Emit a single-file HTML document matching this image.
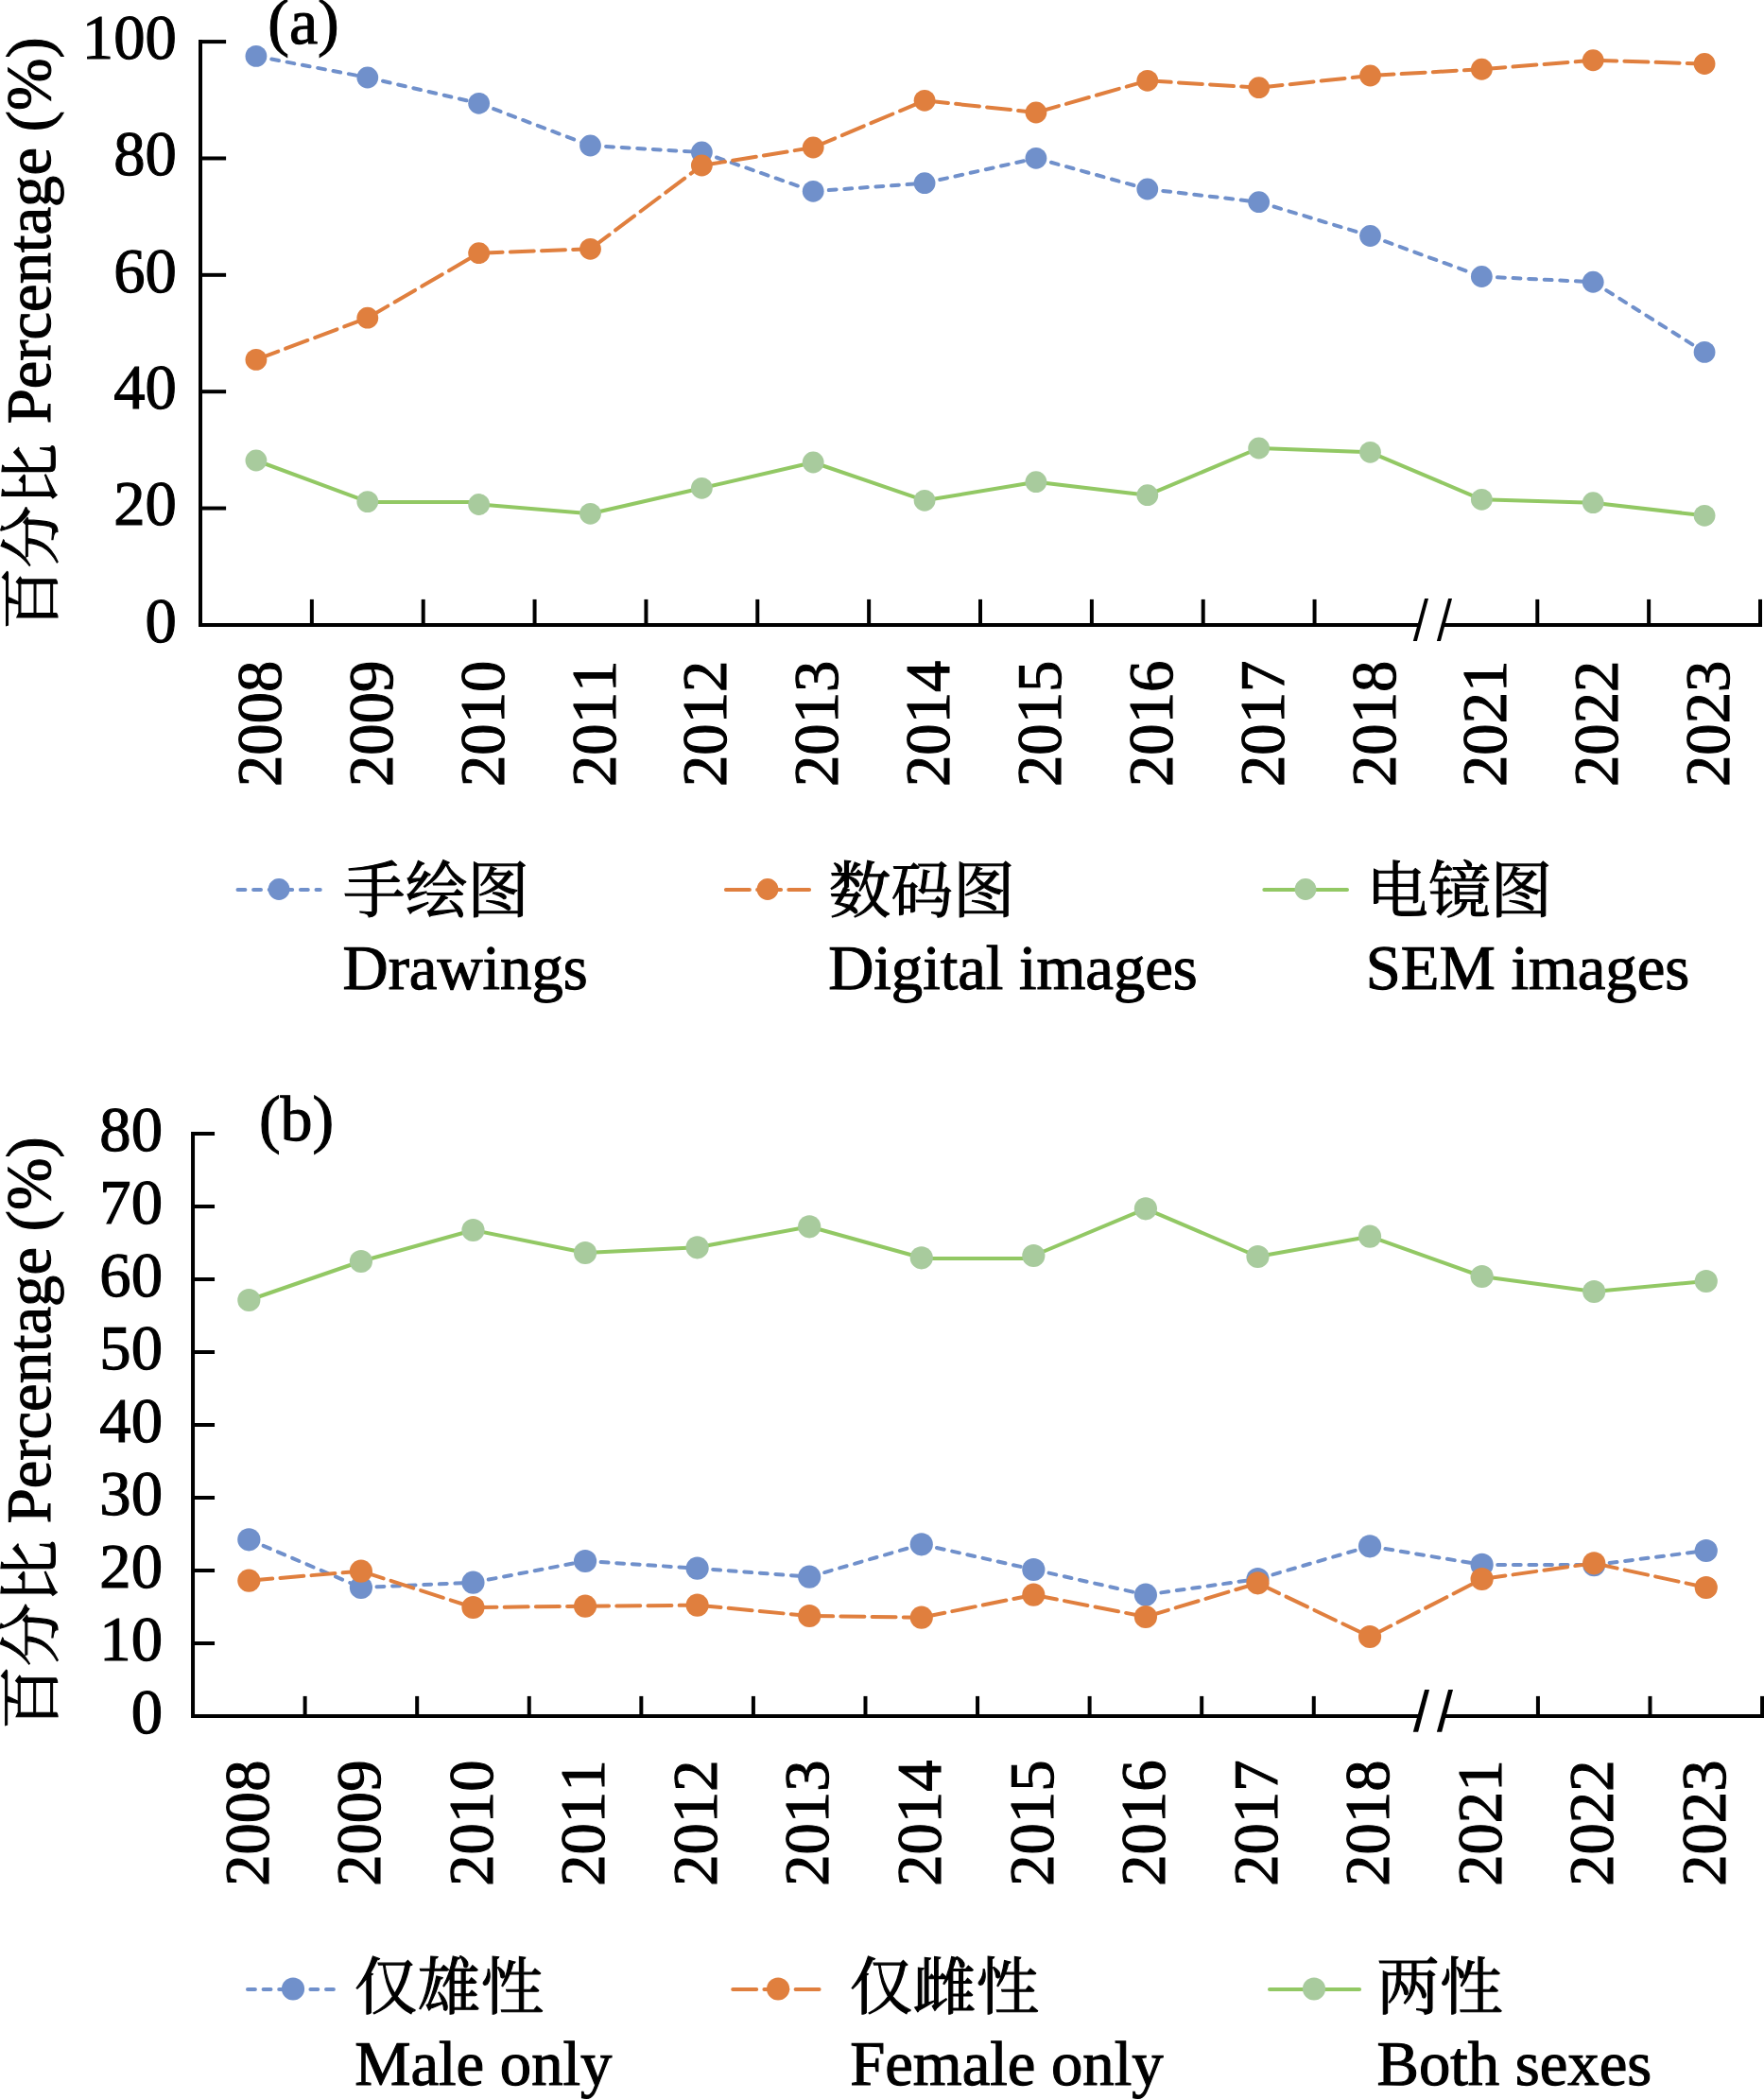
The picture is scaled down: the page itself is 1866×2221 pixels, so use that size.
<!DOCTYPE html>
<html lang="zh"><head><meta charset="utf-8"><title>Figure</title>
<style>html,body{margin:0;padding:0;background:#fff}svg{display:block}text{font-family:"Liberation Serif", "Noto Serif CJK SC", serif;white-space:pre;font-kerning:none;font-variant-ligatures:none;text-rendering:geometricPrecision}</style>
</head><body>
<svg width="1866" height="2221" viewBox="0 0 1866 2221">
<rect width="1866" height="2221" fill="#fff"/>
<g id="chart-a">
<g class="axes" stroke="#000" stroke-width="4" fill="none" stroke-linecap="butt">
<line x1="212" y1="42.1" x2="212" y2="662.9"/>
<line x1="212" y1="660.9" x2="1501.5" y2="660.9"/>
<line x1="1527" y1="660.9" x2="1864" y2="660.9"/>
<line x1="212" y1="44.1" x2="239.1" y2="44.1"/>
<line x1="212" y1="167.46" x2="239.1" y2="167.46"/>
<line x1="212" y1="290.82" x2="239.1" y2="290.82"/>
<line x1="212" y1="414.18" x2="239.1" y2="414.18"/>
<line x1="212" y1="537.54" x2="239.1" y2="537.54"/>
<line x1="329.86" y1="660.9" x2="329.86" y2="633.9"/>
<line x1="447.71" y1="660.9" x2="447.71" y2="633.9"/>
<line x1="565.57" y1="660.9" x2="565.57" y2="633.9"/>
<line x1="683.43" y1="660.9" x2="683.43" y2="633.9"/>
<line x1="801.29" y1="660.9" x2="801.29" y2="633.9"/>
<line x1="919.14" y1="660.9" x2="919.14" y2="633.9"/>
<line x1="1037" y1="660.9" x2="1037" y2="633.9"/>
<line x1="1154.86" y1="660.9" x2="1154.86" y2="633.9"/>
<line x1="1272.71" y1="660.9" x2="1272.71" y2="633.9"/>
<line x1="1390.57" y1="660.9" x2="1390.57" y2="633.9"/>
<line x1="1626.29" y1="660.9" x2="1626.29" y2="633.9"/>
<line x1="1744.14" y1="660.9" x2="1744.14" y2="633.9"/>
<line x1="1862" y1="660.9" x2="1862" y2="633.9"/>
<polygon points="1507.07,632.9 1511.02,632.9 1498.91,677.96 1494.83,677.96" fill="#000" stroke="none"/>
<polygon points="1532.1,632.9 1536.05,632.9 1523.95,677.96 1519.86,677.96" fill="#000" stroke="none"/>
</g>
<g class="labels" font-size="66.67" fill="#000" stroke="#000" stroke-width="1.1">
<text x="186.8" y="62" text-anchor="end">100</text>
<text x="186.8" y="185.36" text-anchor="end">80</text>
<text x="186.8" y="308.72" text-anchor="end">60</text>
<text x="186.8" y="432.08" text-anchor="end">40</text>
<text x="186.8" y="555.44" text-anchor="end">20</text>
<text x="186.8" y="678.8" text-anchor="end">0</text>
<text transform="translate(296.93 832) rotate(-90)">2008</text>
<text transform="translate(414.79 832) rotate(-90)">2009</text>
<text transform="translate(532.64 832) rotate(-90)">2010</text>
<text transform="translate(650.5 832) rotate(-90)">2011</text>
<text transform="translate(768.36 832) rotate(-90)">2012</text>
<text transform="translate(886.21 832) rotate(-90)">2013</text>
<text transform="translate(1004.07 832) rotate(-90)">2014</text>
<text transform="translate(1121.93 832) rotate(-90)">2015</text>
<text transform="translate(1239.79 832) rotate(-90)">2016</text>
<text transform="translate(1357.64 832) rotate(-90)">2017</text>
<text transform="translate(1475.5 832) rotate(-90)">2018</text>
<text transform="translate(1593.36 832) rotate(-90)">2021</text>
<text transform="translate(1711.21 832) rotate(-90)">2022</text>
<text transform="translate(1829.07 832) rotate(-90)">2023</text>
<text x="283.3" y="46" font-size="68">(a)</text>
<text transform="translate(53.3 665) rotate(-90)"><tspan dy="2.2" dx="-1" font-size="65.6">百分比</tspan><tspan dy="-2.2" dx="4.21"> Percentage (%)</tspan></text>
</g>
<g class="s-blue">
<line x1="270.93" y1="59.4" x2="388.79" y2="82" stroke="#7090CB" stroke-width="4" stroke-linecap="round" stroke-dasharray="7.9 8.7"/>
<line x1="388.79" y1="82" x2="506.64" y2="109.3" stroke="#7090CB" stroke-width="4" stroke-linecap="round" stroke-dasharray="7.9 8.7"/>
<line x1="506.64" y1="109.3" x2="624.5" y2="154" stroke="#7090CB" stroke-width="4" stroke-linecap="round" stroke-dasharray="7.9 8.7"/>
<line x1="624.5" y1="154" x2="742.36" y2="161" stroke="#7090CB" stroke-width="4" stroke-linecap="round" stroke-dasharray="7.9 8.7"/>
<line x1="742.36" y1="161" x2="860.21" y2="202.3" stroke="#7090CB" stroke-width="4" stroke-linecap="round" stroke-dasharray="7.9 8.7"/>
<line x1="860.21" y1="202.3" x2="978.07" y2="193.7" stroke="#7090CB" stroke-width="4" stroke-linecap="round" stroke-dasharray="7.9 8.7"/>
<line x1="978.07" y1="193.7" x2="1095.93" y2="167.3" stroke="#7090CB" stroke-width="4" stroke-linecap="round" stroke-dasharray="7.9 8.7"/>
<line x1="1095.93" y1="167.3" x2="1213.79" y2="200" stroke="#7090CB" stroke-width="4" stroke-linecap="round" stroke-dasharray="7.9 8.7"/>
<line x1="1213.79" y1="200" x2="1331.64" y2="213.7" stroke="#7090CB" stroke-width="4" stroke-linecap="round" stroke-dasharray="7.9 8.7"/>
<line x1="1331.64" y1="213.7" x2="1449.5" y2="249.5" stroke="#7090CB" stroke-width="4" stroke-linecap="round" stroke-dasharray="7.9 8.7"/>
<line x1="1449.5" y1="249.5" x2="1567.36" y2="292.5" stroke="#7090CB" stroke-width="4" stroke-linecap="round" stroke-dasharray="7.9 8.7"/>
<line x1="1567.36" y1="292.5" x2="1685.21" y2="298.25" stroke="#7090CB" stroke-width="4" stroke-linecap="round" stroke-dasharray="7.9 8.7"/>
<line x1="1685.21" y1="298.25" x2="1803.07" y2="372.4" stroke="#7090CB" stroke-width="4" stroke-linecap="round" stroke-dasharray="7.9 8.7"/>
<circle cx="270.93" cy="59.4" r="11.4" fill="#7090CB"/>
<circle cx="388.79" cy="82" r="11.4" fill="#7090CB"/>
<circle cx="506.64" cy="109.3" r="11.4" fill="#7090CB"/>
<circle cx="624.5" cy="154" r="11.4" fill="#7090CB"/>
<circle cx="742.36" cy="161" r="11.4" fill="#7090CB"/>
<circle cx="860.21" cy="202.3" r="11.4" fill="#7090CB"/>
<circle cx="978.07" cy="193.7" r="11.4" fill="#7090CB"/>
<circle cx="1095.93" cy="167.3" r="11.4" fill="#7090CB"/>
<circle cx="1213.79" cy="200" r="11.4" fill="#7090CB"/>
<circle cx="1331.64" cy="213.7" r="11.4" fill="#7090CB"/>
<circle cx="1449.5" cy="249.5" r="11.4" fill="#7090CB"/>
<circle cx="1567.36" cy="292.5" r="11.4" fill="#7090CB"/>
<circle cx="1685.21" cy="298.25" r="11.4" fill="#7090CB"/>
<circle cx="1803.07" cy="372.4" r="11.4" fill="#7090CB"/>
</g>
<g class="s-orange">
<line x1="270.93" y1="380.4" x2="388.79" y2="336.2" stroke="#E07F3E" stroke-width="4" stroke-linecap="round" stroke-dasharray="25 8.2"/>
<line x1="388.79" y1="336.2" x2="506.64" y2="267.7" stroke="#E07F3E" stroke-width="4" stroke-linecap="round" stroke-dasharray="25 8.2"/>
<line x1="506.64" y1="267.7" x2="624.5" y2="263.3" stroke="#E07F3E" stroke-width="4" stroke-linecap="round" stroke-dasharray="25 8.2"/>
<line x1="624.5" y1="263.3" x2="742.36" y2="175" stroke="#E07F3E" stroke-width="4" stroke-linecap="round" stroke-dasharray="25 8.2"/>
<line x1="742.36" y1="175" x2="860.21" y2="156" stroke="#E07F3E" stroke-width="4" stroke-linecap="round" stroke-dasharray="25 8.2"/>
<line x1="860.21" y1="156" x2="978.07" y2="106.3" stroke="#E07F3E" stroke-width="4" stroke-linecap="round" stroke-dasharray="25 8.2"/>
<line x1="978.07" y1="106.3" x2="1095.93" y2="119" stroke="#E07F3E" stroke-width="4" stroke-linecap="round" stroke-dasharray="25 8.2"/>
<line x1="1095.93" y1="119" x2="1213.79" y2="85.3" stroke="#E07F3E" stroke-width="4" stroke-linecap="round" stroke-dasharray="25 8.2"/>
<line x1="1213.79" y1="85.3" x2="1331.64" y2="92.7" stroke="#E07F3E" stroke-width="4" stroke-linecap="round" stroke-dasharray="25 8.2"/>
<line x1="1331.64" y1="92.7" x2="1449.5" y2="80" stroke="#E07F3E" stroke-width="4" stroke-linecap="round" stroke-dasharray="25 8.2"/>
<line x1="1449.5" y1="80" x2="1567.36" y2="73.25" stroke="#E07F3E" stroke-width="4" stroke-linecap="round" stroke-dasharray="25 8.2"/>
<line x1="1567.36" y1="73.25" x2="1685.21" y2="63.75" stroke="#E07F3E" stroke-width="4" stroke-linecap="round" stroke-dasharray="25 8.2"/>
<line x1="1685.21" y1="63.75" x2="1803.07" y2="67.5" stroke="#E07F3E" stroke-width="4" stroke-linecap="round" stroke-dasharray="25 8.2"/>
<circle cx="270.93" cy="380.4" r="11.4" fill="#E07F3E"/>
<circle cx="388.79" cy="336.2" r="11.4" fill="#E07F3E"/>
<circle cx="506.64" cy="267.7" r="11.4" fill="#E07F3E"/>
<circle cx="624.5" cy="263.3" r="11.4" fill="#E07F3E"/>
<circle cx="742.36" cy="175" r="11.4" fill="#E07F3E"/>
<circle cx="860.21" cy="156" r="11.4" fill="#E07F3E"/>
<circle cx="978.07" cy="106.3" r="11.4" fill="#E07F3E"/>
<circle cx="1095.93" cy="119" r="11.4" fill="#E07F3E"/>
<circle cx="1213.79" cy="85.3" r="11.4" fill="#E07F3E"/>
<circle cx="1331.64" cy="92.7" r="11.4" fill="#E07F3E"/>
<circle cx="1449.5" cy="80" r="11.4" fill="#E07F3E"/>
<circle cx="1567.36" cy="73.25" r="11.4" fill="#E07F3E"/>
<circle cx="1685.21" cy="63.75" r="11.4" fill="#E07F3E"/>
<circle cx="1803.07" cy="67.5" r="11.4" fill="#E07F3E"/>
</g>
<g class="s-green">
<line x1="270.93" y1="487" x2="388.79" y2="530.6" stroke="#92C864" stroke-width="4" stroke-linecap="round"/>
<line x1="388.79" y1="530.9" x2="506.64" y2="530.9" stroke="#92C864" stroke-width="4" stroke-linecap="round"/>
<line x1="506.64" y1="533.5" x2="624.5" y2="543.3" stroke="#92C864" stroke-width="4" stroke-linecap="round"/>
<line x1="624.5" y1="543.3" x2="742.36" y2="516.3" stroke="#92C864" stroke-width="4" stroke-linecap="round"/>
<line x1="742.36" y1="516.3" x2="860.21" y2="489" stroke="#92C864" stroke-width="4" stroke-linecap="round"/>
<line x1="860.21" y1="489" x2="978.07" y2="529.3" stroke="#92C864" stroke-width="4" stroke-linecap="round"/>
<line x1="978.07" y1="529.3" x2="1095.93" y2="509.7" stroke="#92C864" stroke-width="4" stroke-linecap="round"/>
<line x1="1095.93" y1="509.7" x2="1213.79" y2="523.7" stroke="#92C864" stroke-width="4" stroke-linecap="round"/>
<line x1="1213.79" y1="523.7" x2="1331.64" y2="474" stroke="#92C864" stroke-width="4" stroke-linecap="round"/>
<line x1="1331.64" y1="474" x2="1449.5" y2="478.3" stroke="#92C864" stroke-width="4" stroke-linecap="round"/>
<line x1="1449.5" y1="478.3" x2="1567.36" y2="528.3" stroke="#92C864" stroke-width="4" stroke-linecap="round"/>
<line x1="1567.36" y1="528.3" x2="1685.21" y2="531.7" stroke="#92C864" stroke-width="4" stroke-linecap="round"/>
<line x1="1685.21" y1="531.7" x2="1803.07" y2="545.3" stroke="#92C864" stroke-width="4" stroke-linecap="round"/>
<circle cx="270.93" cy="487" r="11.4" fill="#A8CB9D"/>
<circle cx="388.79" cy="530.6" r="11.4" fill="#A8CB9D"/>
<circle cx="506.64" cy="533.5" r="11.4" fill="#A8CB9D"/>
<circle cx="624.5" cy="543.3" r="11.4" fill="#A8CB9D"/>
<circle cx="742.36" cy="516.3" r="11.4" fill="#A8CB9D"/>
<circle cx="860.21" cy="489" r="11.4" fill="#A8CB9D"/>
<circle cx="978.07" cy="529.3" r="11.4" fill="#A8CB9D"/>
<circle cx="1095.93" cy="509.7" r="11.4" fill="#A8CB9D"/>
<circle cx="1213.79" cy="523.7" r="11.4" fill="#A8CB9D"/>
<circle cx="1331.64" cy="474" r="11.4" fill="#A8CB9D"/>
<circle cx="1449.5" cy="478.3" r="11.4" fill="#A8CB9D"/>
<circle cx="1567.36" cy="528.3" r="11.4" fill="#A8CB9D"/>
<circle cx="1685.21" cy="531.7" r="11.4" fill="#A8CB9D"/>
<circle cx="1803.07" cy="545.3" r="11.4" fill="#A8CB9D"/>
</g>
<g class="legend">
<line x1="251.5" y1="940.92" x2="338.75" y2="940.92" stroke="#7090CB" stroke-width="4" stroke-linecap="round" stroke-dasharray="7.9 8.7"/>
<circle cx="295.1" cy="940.5" r="11.4" fill="#7090CB"/>
<text x="363.1" y="964.6" font-size="65.6" stroke="#000" stroke-width="1.1">手绘图</text>
<text x="362.5" y="1046.3" font-size="66.67" stroke="#000" stroke-width="1.1">Drawings</text>
<line x1="767.9" y1="940.92" x2="856.1" y2="940.92" stroke="#E07F3E" stroke-width="4" stroke-linecap="round" stroke-dasharray="25 8.2"/>
<circle cx="812" cy="940.5" r="11.4" fill="#E07F3E"/>
<text x="876.8" y="964.6" font-size="65.6" stroke="#000" stroke-width="1.1">数码图</text>
<text x="876.2" y="1046.3" font-size="66.67" stroke="#000" stroke-width="1.1">Digital images</text>
<line x1="1337.3" y1="940.92" x2="1425" y2="940.92" stroke="#92C864" stroke-width="4" stroke-linecap="round"/>
<circle cx="1381" cy="940.5" r="11.4" fill="#A8CB9D"/>
<text x="1445.3" y="964.6" font-size="65.6" stroke="#000" stroke-width="1.1">电镜图</text>
<text x="1444.7" y="1046.3" font-size="66.67" stroke="#000" stroke-width="1.1">SEM images</text>
</g>
</g>
<g id="chart-b">
<g class="axes" stroke="#000" stroke-width="4" fill="none" stroke-linecap="butt">
<line x1="204.05" y1="1197" x2="204.05" y2="1817"/>
<line x1="204.05" y1="1815" x2="1502" y2="1815"/>
<line x1="1528" y1="1815" x2="1866.05" y2="1815"/>
<line x1="204.05" y1="1199" x2="227.05" y2="1199"/>
<line x1="204.05" y1="1276" x2="227.05" y2="1276"/>
<line x1="204.05" y1="1353" x2="227.05" y2="1353"/>
<line x1="204.05" y1="1430" x2="227.05" y2="1430"/>
<line x1="204.05" y1="1507" x2="227.05" y2="1507"/>
<line x1="204.05" y1="1584" x2="227.05" y2="1584"/>
<line x1="204.05" y1="1661" x2="227.05" y2="1661"/>
<line x1="204.05" y1="1738" x2="227.05" y2="1738"/>
<line x1="322.62" y1="1815" x2="322.62" y2="1793.9"/>
<line x1="441.19" y1="1815" x2="441.19" y2="1793.9"/>
<line x1="559.76" y1="1815" x2="559.76" y2="1793.9"/>
<line x1="678.34" y1="1815" x2="678.34" y2="1793.9"/>
<line x1="796.91" y1="1815" x2="796.91" y2="1793.9"/>
<line x1="915.48" y1="1815" x2="915.48" y2="1793.9"/>
<line x1="1034.05" y1="1815" x2="1034.05" y2="1793.9"/>
<line x1="1152.62" y1="1815" x2="1152.62" y2="1793.9"/>
<line x1="1271.19" y1="1815" x2="1271.19" y2="1793.9"/>
<line x1="1389.76" y1="1815" x2="1389.76" y2="1793.9"/>
<line x1="1626.91" y1="1815" x2="1626.91" y2="1793.9"/>
<line x1="1745.48" y1="1815" x2="1745.48" y2="1793.9"/>
<line x1="1864.05" y1="1815" x2="1864.05" y2="1793.9"/>
<polygon points="1507.07,1787.1 1512.04,1787.1 1500.14,1831.8 1494.83,1831.8" fill="#000" stroke="none"/>
<polygon points="1532.1,1787.1 1537,1787.1 1525.17,1831.8 1519.86,1831.8" fill="#000" stroke="none"/>
</g>
<g class="labels" font-size="66.67" fill="#000" stroke="#000" stroke-width="1.1">
<text x="172" y="1217.4" text-anchor="end">80</text>
<text x="172" y="1294.4" text-anchor="end">70</text>
<text x="172" y="1371.4" text-anchor="end">60</text>
<text x="172" y="1448.4" text-anchor="end">50</text>
<text x="172" y="1525.4" text-anchor="end">40</text>
<text x="172" y="1602.4" text-anchor="end">30</text>
<text x="172" y="1679.4" text-anchor="end">20</text>
<text x="172" y="1756.4" text-anchor="end">10</text>
<text x="172" y="1833.4" text-anchor="end">0</text>
<text transform="translate(283.54 1994.8) rotate(-90)">2008</text>
<text transform="translate(402.11 1994.8) rotate(-90)">2009</text>
<text transform="translate(520.68 1994.8) rotate(-90)">2010</text>
<text transform="translate(639.25 1994.8) rotate(-90)">2011</text>
<text transform="translate(757.82 1994.8) rotate(-90)">2012</text>
<text transform="translate(876.39 1994.8) rotate(-90)">2013</text>
<text transform="translate(994.96 1994.8) rotate(-90)">2014</text>
<text transform="translate(1113.54 1994.8) rotate(-90)">2015</text>
<text transform="translate(1232.11 1994.8) rotate(-90)">2016</text>
<text transform="translate(1350.68 1994.8) rotate(-90)">2017</text>
<text transform="translate(1469.25 1994.8) rotate(-90)">2018</text>
<text transform="translate(1587.82 1994.8) rotate(-90)">2021</text>
<text transform="translate(1706.39 1994.8) rotate(-90)">2022</text>
<text transform="translate(1824.96 1994.8) rotate(-90)">2023</text>
<text x="273.9" y="1206.3" font-size="68">(b)</text>
<text transform="translate(53.3 1828) rotate(-90)"><tspan dy="2.2" dx="-1" font-size="66.8">百分比</tspan><tspan dy="-2.2" dx="0.61"> Percentage (%)</tspan></text>
</g>
<g class="s-blue">
<line x1="263.34" y1="1628.3" x2="381.91" y2="1679" stroke="#7090CB" stroke-width="4" stroke-linecap="round" stroke-dasharray="7.9 8.7"/>
<line x1="381.91" y1="1679" x2="500.48" y2="1673.7" stroke="#7090CB" stroke-width="4" stroke-linecap="round" stroke-dasharray="7.9 8.7"/>
<line x1="500.48" y1="1673.7" x2="619.05" y2="1651" stroke="#7090CB" stroke-width="4" stroke-linecap="round" stroke-dasharray="7.9 8.7"/>
<line x1="619.05" y1="1651" x2="737.62" y2="1658.7" stroke="#7090CB" stroke-width="4" stroke-linecap="round" stroke-dasharray="7.9 8.7"/>
<line x1="737.62" y1="1658.7" x2="856.19" y2="1667.7" stroke="#7090CB" stroke-width="4" stroke-linecap="round" stroke-dasharray="7.9 8.7"/>
<line x1="856.19" y1="1667.7" x2="974.76" y2="1633.3" stroke="#7090CB" stroke-width="4" stroke-linecap="round" stroke-dasharray="7.9 8.7"/>
<line x1="974.76" y1="1633.3" x2="1093.34" y2="1660" stroke="#7090CB" stroke-width="4" stroke-linecap="round" stroke-dasharray="7.9 8.7"/>
<line x1="1093.34" y1="1660" x2="1211.91" y2="1686.7" stroke="#7090CB" stroke-width="4" stroke-linecap="round" stroke-dasharray="7.9 8.7"/>
<line x1="1211.91" y1="1686.7" x2="1330.48" y2="1670" stroke="#7090CB" stroke-width="4" stroke-linecap="round" stroke-dasharray="7.9 8.7"/>
<line x1="1330.48" y1="1670" x2="1449.05" y2="1635.3" stroke="#7090CB" stroke-width="4" stroke-linecap="round" stroke-dasharray="7.9 8.7"/>
<line x1="1449.05" y1="1635.3" x2="1567.62" y2="1654.9" stroke="#7090CB" stroke-width="4" stroke-linecap="round" stroke-dasharray="7.9 8.7"/>
<line x1="1567.62" y1="1654.9" x2="1686.19" y2="1655.1" stroke="#7090CB" stroke-width="4" stroke-linecap="round" stroke-dasharray="7.9 8.7"/>
<line x1="1686.19" y1="1655.1" x2="1804.76" y2="1640" stroke="#7090CB" stroke-width="4" stroke-linecap="round" stroke-dasharray="7.9 8.7"/>
<circle cx="263.34" cy="1628.3" r="12.1" fill="#7090CB"/>
<circle cx="381.91" cy="1679" r="12.1" fill="#7090CB"/>
<circle cx="500.48" cy="1673.7" r="12.1" fill="#7090CB"/>
<circle cx="619.05" cy="1651" r="12.1" fill="#7090CB"/>
<circle cx="737.62" cy="1658.7" r="12.1" fill="#7090CB"/>
<circle cx="856.19" cy="1667.7" r="12.1" fill="#7090CB"/>
<circle cx="974.76" cy="1633.3" r="12.1" fill="#7090CB"/>
<circle cx="1093.34" cy="1660" r="12.1" fill="#7090CB"/>
<circle cx="1211.91" cy="1686.7" r="12.1" fill="#7090CB"/>
<circle cx="1330.48" cy="1670" r="12.1" fill="#7090CB"/>
<circle cx="1449.05" cy="1635.3" r="12.1" fill="#7090CB"/>
<circle cx="1567.62" cy="1654.9" r="12.1" fill="#7090CB"/>
<circle cx="1686.19" cy="1655.1" r="12.1" fill="#7090CB"/>
<circle cx="1804.76" cy="1640" r="12.1" fill="#7090CB"/>
</g>
<g class="s-orange">
<line x1="263.34" y1="1671.7" x2="381.91" y2="1661.7" stroke="#E07F3E" stroke-width="4" stroke-linecap="round" stroke-dasharray="25 8.2"/>
<line x1="381.91" y1="1661.7" x2="500.48" y2="1700" stroke="#E07F3E" stroke-width="4" stroke-linecap="round" stroke-dasharray="25 8.2"/>
<line x1="500.48" y1="1700" x2="619.05" y2="1698.7" stroke="#E07F3E" stroke-width="4" stroke-linecap="round" stroke-dasharray="25 8.2"/>
<line x1="619.05" y1="1698.7" x2="737.62" y2="1697.7" stroke="#E07F3E" stroke-width="4" stroke-linecap="round" stroke-dasharray="25 8.2"/>
<line x1="737.62" y1="1697.7" x2="856.19" y2="1709" stroke="#E07F3E" stroke-width="4" stroke-linecap="round" stroke-dasharray="25 8.2"/>
<line x1="856.19" y1="1709" x2="974.76" y2="1710.7" stroke="#E07F3E" stroke-width="4" stroke-linecap="round" stroke-dasharray="25 8.2"/>
<line x1="974.76" y1="1710.7" x2="1093.34" y2="1686.7" stroke="#E07F3E" stroke-width="4" stroke-linecap="round" stroke-dasharray="25 8.2"/>
<line x1="1093.34" y1="1686.7" x2="1211.91" y2="1710" stroke="#E07F3E" stroke-width="4" stroke-linecap="round" stroke-dasharray="25 8.2"/>
<line x1="1211.91" y1="1710" x2="1330.48" y2="1674.3" stroke="#E07F3E" stroke-width="4" stroke-linecap="round" stroke-dasharray="25 8.2"/>
<line x1="1330.48" y1="1674.3" x2="1449.05" y2="1731" stroke="#E07F3E" stroke-width="4" stroke-linecap="round" stroke-dasharray="25 8.2"/>
<line x1="1449.05" y1="1731" x2="1567.62" y2="1670" stroke="#E07F3E" stroke-width="4" stroke-linecap="round" stroke-dasharray="25 8.2"/>
<line x1="1567.62" y1="1670" x2="1686.19" y2="1653.3" stroke="#E07F3E" stroke-width="4" stroke-linecap="round" stroke-dasharray="25 8.2"/>
<line x1="1686.19" y1="1653.3" x2="1804.76" y2="1679" stroke="#E07F3E" stroke-width="4" stroke-linecap="round" stroke-dasharray="25 8.2"/>
<circle cx="263.34" cy="1671.7" r="12.1" fill="#E07F3E"/>
<circle cx="381.91" cy="1661.7" r="12.1" fill="#E07F3E"/>
<circle cx="500.48" cy="1700" r="12.1" fill="#E07F3E"/>
<circle cx="619.05" cy="1698.7" r="12.1" fill="#E07F3E"/>
<circle cx="737.62" cy="1697.7" r="12.1" fill="#E07F3E"/>
<circle cx="856.19" cy="1709" r="12.1" fill="#E07F3E"/>
<circle cx="974.76" cy="1710.7" r="12.1" fill="#E07F3E"/>
<circle cx="1093.34" cy="1686.7" r="12.1" fill="#E07F3E"/>
<circle cx="1211.91" cy="1710" r="12.1" fill="#E07F3E"/>
<circle cx="1330.48" cy="1674.3" r="12.1" fill="#E07F3E"/>
<circle cx="1449.05" cy="1731" r="12.1" fill="#E07F3E"/>
<circle cx="1567.62" cy="1670" r="12.1" fill="#E07F3E"/>
<circle cx="1686.19" cy="1653.3" r="12.1" fill="#E07F3E"/>
<circle cx="1804.76" cy="1679" r="12.1" fill="#E07F3E"/>
</g>
<g class="s-green">
<line x1="263.34" y1="1375" x2="381.91" y2="1334" stroke="#92C864" stroke-width="4" stroke-linecap="round"/>
<line x1="381.91" y1="1334" x2="500.48" y2="1301" stroke="#92C864" stroke-width="4" stroke-linecap="round"/>
<line x1="500.48" y1="1301" x2="619.05" y2="1325" stroke="#92C864" stroke-width="4" stroke-linecap="round"/>
<line x1="619.05" y1="1325" x2="737.62" y2="1319.3" stroke="#92C864" stroke-width="4" stroke-linecap="round"/>
<line x1="737.62" y1="1319.3" x2="856.19" y2="1297.3" stroke="#92C864" stroke-width="4" stroke-linecap="round"/>
<line x1="856.19" y1="1297.3" x2="974.76" y2="1330.3" stroke="#92C864" stroke-width="4" stroke-linecap="round"/>
<line x1="974.76" y1="1330.9" x2="1093.34" y2="1330.9" stroke="#92C864" stroke-width="4" stroke-linecap="round"/>
<line x1="1093.34" y1="1328" x2="1211.91" y2="1278.3" stroke="#92C864" stroke-width="4" stroke-linecap="round"/>
<line x1="1211.91" y1="1278.3" x2="1330.48" y2="1329" stroke="#92C864" stroke-width="4" stroke-linecap="round"/>
<line x1="1330.48" y1="1329" x2="1449.05" y2="1307.7" stroke="#92C864" stroke-width="4" stroke-linecap="round"/>
<line x1="1449.05" y1="1307.7" x2="1567.62" y2="1350" stroke="#92C864" stroke-width="4" stroke-linecap="round"/>
<line x1="1567.62" y1="1350" x2="1686.19" y2="1366" stroke="#92C864" stroke-width="4" stroke-linecap="round"/>
<line x1="1686.19" y1="1366" x2="1804.76" y2="1355" stroke="#92C864" stroke-width="4" stroke-linecap="round"/>
<circle cx="263.34" cy="1375" r="12.1" fill="#A8CB9D"/>
<circle cx="381.91" cy="1334" r="12.1" fill="#A8CB9D"/>
<circle cx="500.48" cy="1301" r="12.1" fill="#A8CB9D"/>
<circle cx="619.05" cy="1325" r="12.1" fill="#A8CB9D"/>
<circle cx="737.62" cy="1319.3" r="12.1" fill="#A8CB9D"/>
<circle cx="856.19" cy="1297.3" r="12.1" fill="#A8CB9D"/>
<circle cx="974.76" cy="1330.3" r="12.1" fill="#A8CB9D"/>
<circle cx="1093.34" cy="1328" r="12.1" fill="#A8CB9D"/>
<circle cx="1211.91" cy="1278.3" r="12.1" fill="#A8CB9D"/>
<circle cx="1330.48" cy="1329" r="12.1" fill="#A8CB9D"/>
<circle cx="1449.05" cy="1307.7" r="12.1" fill="#A8CB9D"/>
<circle cx="1567.62" cy="1350" r="12.1" fill="#A8CB9D"/>
<circle cx="1686.19" cy="1366" r="12.1" fill="#A8CB9D"/>
<circle cx="1804.76" cy="1355" r="12.1" fill="#A8CB9D"/>
</g>
<g class="legend">
<line x1="262" y1="2103.92" x2="354.1" y2="2103.92" stroke="#7090CB" stroke-width="4" stroke-linecap="round" stroke-dasharray="7.9 8.7"/>
<circle cx="310" cy="2103.5" r="12.1" fill="#7090CB"/>
<text x="374.8" y="2125.3" font-size="66.8" stroke="#000" stroke-width="1.1">仅雄性</text>
<text x="375.2" y="2205" font-size="66.67" stroke="#000" stroke-width="1.1">Male only</text>
<line x1="775.2" y1="2103.92" x2="867.2" y2="2103.92" stroke="#E07F3E" stroke-width="4" stroke-linecap="round" stroke-dasharray="25 8.2"/>
<circle cx="823.1" cy="2103.5" r="12.1" fill="#E07F3E"/>
<text x="898.8" y="2125.3" font-size="66.8" stroke="#000" stroke-width="1.1">仅雌性</text>
<text x="899.2" y="2205" font-size="66.67" stroke="#000" stroke-width="1.1">Female only</text>
<line x1="1343" y1="2103.92" x2="1438.1" y2="2103.92" stroke="#92C864" stroke-width="4" stroke-linecap="round"/>
<circle cx="1390" cy="2103.5" r="12.1" fill="#A8CB9D"/>
<text x="1456.1" y="2125.3" font-size="66.8" stroke="#000" stroke-width="1.1">两性</text>
<text x="1456.5" y="2205" font-size="66.67" stroke="#000" stroke-width="1.1">Both sexes</text>
</g>
</g>
</svg></body></html>
